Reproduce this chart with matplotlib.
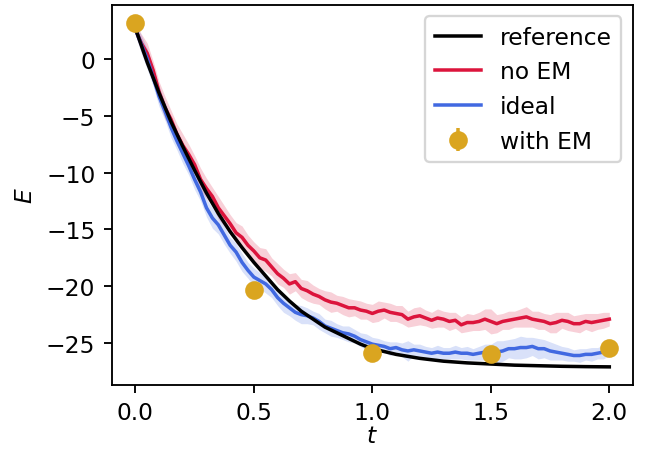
import numpy as np
import matplotlib
matplotlib.use("Agg")
from matplotlib import pyplot as plt

DPI = 168

# reference curve
t_ref = [0.0, 0.05, 0.1, 0.15, 0.2, 0.25, 0.3, 0.35, 0.4, 0.45, 0.5, 0.55, 0.6,
         0.65, 0.7, 0.75, 0.8, 0.85, 0.9, 0.95, 1.0, 1.1, 1.2, 1.3, 1.4, 1.5,
         1.6, 1.7, 1.8, 1.9, 2.0]
E_ref = [2.7, -0.3, -3.0, -5.5, -7.7, -9.8, -11.8, -13.6, -15.2, -16.6, -17.9,
         -19.1, -20.3, -21.3, -22.2, -22.9, -23.6, -24.1, -24.6, -25.1, -25.5,
         -26.0, -26.35, -26.6, -26.75, -26.85, -26.95, -27.0, -27.05, -27.08, -27.1]

# noisy runs, sampled every 0.025
t_run = np.linspace(0, 2, 81)
E_noem = [2.6, 1.4, 0.5, -1.0, -2.9, -4.3, -5.3, -6.6, -7.6, -8.4,
          -9.3, -10.6, -11.4, -12.1, -13.1, -13.8, -14.5, -15.3, -15.7, -16.4,
          -16.9, -17.5, -17.7, -18.3, -18.9, -19.3, -19.8, -19.6, -20.2, -20.4,
          -20.7, -20.9, -21.2, -21.4, -21.5, -21.7, -21.9, -21.9, -22.1, -22.2,
          -22.4, -22.2, -22.1, -22.3, -22.4, -22.5, -22.9, -22.7, -22.6, -22.8,
          -23.0, -22.8, -22.9, -23.1, -23.0, -23.4, -23.2, -23.2, -23.1, -22.9,
          -23.1, -23.3, -23.1, -23.0, -22.9, -22.8, -22.7, -22.9, -23.0, -23.1,
          -23.3, -23.2, -23.0, -23.1, -23.3, -23.3, -23.1, -23.2, -23.1, -23.0,
          -22.9]
s_noem = [0.5, 0.8, 0.9, 0.8, 0.9, 1.0, 0.8, 0.9, 1.0, 0.9,
          0.8, 1.0, 0.9, 0.8, 1.0, 0.9, 0.8, 0.9, 1.0, 0.9,
          0.8, 0.9, 1.0, 0.8, 0.9, 0.8, 0.9, 0.8, 0.8, 0.9,
          0.8, 0.7, 0.8, 0.9, 0.7, 0.8, 0.8, 0.7, 0.8, 0.7,
          0.8, 0.9, 0.7, 0.8, 0.7, 0.8, 0.7, 0.8, 0.8, 0.7,
          0.7, 0.8, 0.7, 0.8, 0.7, 0.7, 0.8, 0.7, 0.8, 0.9,
          1.1, 0.8, 0.7, 0.8, 0.7, 0.8, 0.9, 0.7, 0.8, 0.7,
          0.8, 0.9, 0.7, 0.8, 0.7, 0.8, 0.7, 0.8, 0.7, 0.7,
          0.6]
E_ideal = [2.6, 1.3, 0.0, -1.6, -3.3, -4.6, -6.0, -7.2, -8.3, -9.4,
           -10.6, -11.7, -13.1, -14.0, -14.6, -15.5, -16.4, -17.0, -17.9, -18.6,
           -19.2, -19.5, -19.8, -20.3, -21.0, -21.5, -21.9, -22.3, -22.5, -22.6,
           -22.8, -23.1, -23.5, -23.7, -23.9, -24.1, -24.2, -24.4, -24.7, -24.9,
           -25.1, -25.2, -25.3, -25.5, -25.4, -25.6, -25.7, -25.6, -25.7, -25.8,
           -25.9, -25.8, -25.9, -25.9, -25.8, -25.9, -25.9, -26.0, -25.9, -25.8,
           -25.9, -25.8, -25.7, -25.5, -25.5, -25.4, -25.4, -25.3, -25.5, -25.5,
           -25.7, -25.8, -25.9, -26.0, -26.1, -26.1, -26.0, -26.0, -25.9, -25.8,
           -25.6]
s_ideal = [0.5, 0.8, 0.9, 0.8, 0.9, 0.8, 0.9, 0.8, 0.9, 0.8,
           0.9, 0.8, 0.8, 0.9, 0.8, 0.8, 0.7, 0.8, 0.8, 0.7,
           0.8, 0.7, 0.8, 0.7, 0.7, 0.8, 0.7, 0.7, 0.8, 0.7,
           0.6, 0.7, 0.6, 0.7, 0.6, 0.6, 0.7, 0.6, 0.6, 0.7,
           0.6, 0.6, 0.5, 0.6, 0.5, 0.6, 0.9, 0.5, 0.6, 0.5,
           0.5, 0.6, 0.5, 0.5, 0.6, 0.5, 0.6, 0.5, 0.6, 0.7,
           0.8, 1.0, 0.9, 0.8, 0.9, 1.0, 0.9, 0.8, 0.9, 0.8,
           0.8, 0.7, 0.6, 0.6, 0.5, 0.6, 0.5, 0.6, 0.5, 0.6,
           0.5]

# with error mitigation
t_em = [0.0, 0.5, 1.0, 1.5, 2.0]
E_em = [3.2, -20.3, -25.9, -25.95, -25.45]
err_em = [0.3, 0.3, 0.3, 0.3, 0.3]

E_noem = np.array(E_noem)
E_ideal = np.array(E_ideal)
s_noem = np.array(s_noem)
s_ideal = np.array(s_ideal)

fig = plt.figure(figsize=(649 / DPI, 451 / DPI), dpi=DPI)
ax = fig.add_axes([111.7 / 649, 1 - 385.7 / 451, (633 - 111.7) / 649, (385.7 - 5.7) / 451])

ax.plot(t_ref, E_ref, color="black", lw=1.5, label="reference", zorder=3)
ax.plot(t_run, E_noem, color="crimson", lw=1.5, label="no EM", zorder=2)
ax.fill_between(t_run, E_noem - s_noem, E_noem + s_noem, color="crimson", alpha=0.2, lw=0)
ax.plot(t_run, E_ideal, color="royalblue", lw=1.5, label="ideal", zorder=2)
ax.fill_between(t_run, E_ideal - s_ideal, E_ideal + s_ideal, color="royalblue", alpha=0.2, lw=0)
ax.errorbar(t_em, E_em, yerr=err_em, fmt="o", color="goldenrod", ms=7,
            label="with EM", zorder=4)

ax.set_xlim(-0.1, 2.1)
ax.set_ylim(-28.67, 4.78)
ax.set_xticks([0.0, 0.5, 1.0, 1.5, 2.0])
ax.set_yticks([0, -5, -10, -15, -20, -25])
ax.set_xlabel("$t$", labelpad=0)
ax.set_ylabel("$E$")
ax.legend(loc="upper right")

fig.savefig("out.png", dpi=DPI)
